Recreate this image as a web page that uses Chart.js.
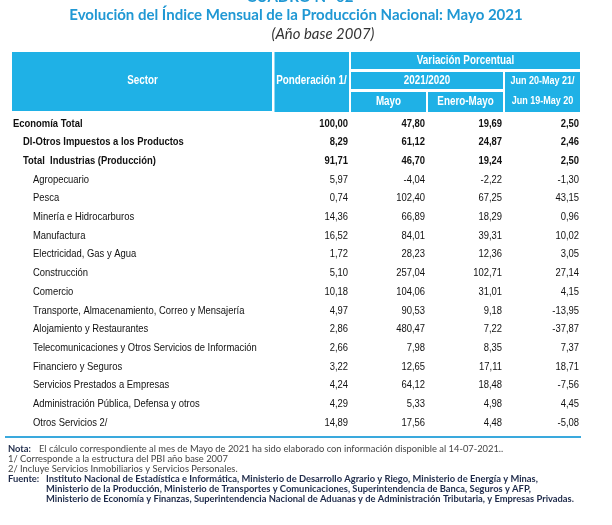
<!DOCTYPE html>
<html lang="es">
<head>
  <meta charset="UTF-8">
  <title>Producción Nacional Mayo 2021</title>
  <script src="https://cdn.jsdelivr.net/npm/chart.js@4/dist/chart.umd.min.js"></script>
  <style>
    body { margin: 0; background: #fff; }
    #wrap { width: 612px; height: 525px; }
  </style>
</head>
<body>
  <div id="wrap"><canvas id="tabla" width="612" height="525"></canvas></div>
  <script>
    // datos del cuadro
    var sectores = [
      'Economía Total',
      'DI-Otros Impuestos a los Productos',
      'Total  Industrias (Producción)',
      'Agropecuario',
      'Pesca',
      'Minería e Hidrocarburos',
      'Manufactura',
      'Electricidad, Gas y Agua',
      'Construcción',
      'Comercio',
      'Transporte, Almacenamiento, Correo y Mensajería',
      'Alojamiento y Restaurantes',
      'Telecomunicaciones y Otros Servicios de Información',
      'Financiero y Seguros',
      'Servicios Prestados a Empresas',
      'Administración Pública, Defensa y otros',
      'Otros Servicios 2/'
    ]
    var nivel = [0, 1, 1, 2, 2, 2, 2, 2, 2, 2, 2, 2, 2, 2, 2, 2, 2]
    var columnas = ['Ponderación 1/', 'Mayo', 'Enero-Mayo', 'Jun 20-May 21/']

    var ponderacion = [100.00, 8.29, 91.71, 5.97, 0.74, 14.36, 16.52, 1.72, 5.10, 10.18, 4.97, 2.86, 2.66, 3.22, 4.24, 4.29, 14.89]
    var varMayo = [47.80, 61.12, 46.70, -4.04, 102.40, 66.89, 84.01, 28.23, 257.04, 104.06, 90.53, 480.47, 7.98, 12.65, 64.12, 5.33, 17.56]
    var varEneroMayo = [19.69, 24.87, 19.24, -2.22, 67.25, 18.29, 39.31, 12.36, 102.71, 31.01, 9.18, 7.22, 8.35, 17.11, 18.48, 4.98, 4.48]
    var varAnual = [2.50, 2.46, 2.50, -1.30, 43.15, 0.96, 10.02, 3.05, 27.14, 4.15, -13.95, -37.87, 7.37, 18.71, -7.56, 4.45, -5.08]

    var titulo = 'Evolución del Índice Mensual de la Producción Nacional: Mayo 2021'
    var subtitulo = '(Año base 2007)'
    var notas = [
      ['Nota:', 'El cálculo correspondiente al mes de Mayo de 2021 ha sido elaborado con información disponible al 14-07-2021..'],
      ['', '1/ Corresponde a la estructura del PBI año base 2007'],
      ['', '2/ Incluye Servicios Inmobiliarios y Servicios Personales.']
    ]
    var fuente = [
      'Instituto Nacional de Estadística e Informática, Ministerio de Desarrollo Agrario y Riego, Ministerio de Energía y Minas,',
      'Ministerio de la Producción, Ministerio de Transportes y Comunicaciones, Superintendencia de Banca, Seguros y AFP,',
      'Ministerio de Economía y Finanzas, Superintendencia Nacional de Aduanas y de Administración Tributaria, y Empresas Privadas.'
    ]

    var AZUL = '#1fb1e6'
    var AZUL_TITULO = '#2098d4'
    var ARIAL = '"Liberation Sans", Arial, sans-serif'
    var CALIBRI = 'Lato, "Open Sans", sans-serif'
    var ESTRECHO = 0.82 // Arial Narrow ~ Arial comprimida

    function fmt(v) {
      return v.toFixed(2).replace('.', ',')
    }

    function serie(col, valores) {
      return {
        label: columnas[col],
        data: valores.map(function (v, i) { return { x: columnas[col], y: sectores[i], v: v } }),
        pointRadius: 0,
        pointHoverRadius: 0,
        showLine: false
      }
    }

    // texto angosto (imitando Arial Narrow)
    function narrow(ctx, text, x, y, bold, size) {
      ctx.save()
      ctx.font = (bold ? 'bold ' : '') + (size || 11.5) + 'px ' + ARIAL
      ctx.translate(x, y)
      ctx.scale(ESTRECHO, 1)
      ctx.fillText(text, 0, 0)
      ctx.restore()
    }

    // ajusta el tamaño de letra a un ancho dado
    function fitFont(ctx, text, style, family, width) {
      ctx.font = style + ' 10px ' + family
      var w = ctx.measureText(text).width
      return style + ' ' + (10 * width / w).toFixed(2) + 'px ' + family
    }

    var tablaPlugin = {
      id: 'tabla',
      beforeDraw: function (chart) {
        var ctx = chart.ctx
        var area = chart.chartArea
        var x = chart.scales.x
        var colW = (x.right - x.left) / columnas.length
        var top = 52
        var bottom = area.top - 2
        var edge = function (i) { return x.left + i * colW }

        ctx.save()
        ctx.fillStyle = '#fff'
        ctx.fillRect(0, 0, chart.width, chart.height)

        // encabezado
        ctx.fillStyle = AZUL
        ctx.fillRect(12, top, edge(0) - 13, bottom - 1 - top)
        ctx.fillRect(edge(0) + 1.5, top, colW - 2.5, bottom - top)
        ctx.fillRect(edge(1) + 1, top, edge(4) - edge(1) - 2, 17)
        ctx.fillRect(edge(1) + 1, top + 20, edge(3) - edge(1) - 2, 17)
        ctx.fillRect(edge(1) + 1, top + 40, colW - 2, bottom - top - 40)
        ctx.fillRect(edge(2) + 1, top + 40, colW - 2, bottom - top - 40)
        ctx.fillRect(edge(3) + 1, top + 20, colW - 2, bottom - top - 20)

        ctx.fillStyle = '#fff'
        ctx.textAlign = 'center'
        ctx.textBaseline = 'middle'
        narrow(ctx, 'Sector', (12 + edge(0)) / 2, 81, true, 12)
        narrow(ctx, columnas[0], edge(0) + colW / 2, 81, true, 12)
        narrow(ctx, 'Variación Porcentual', (edge(1) + edge(4)) / 2, 61, true, 12)
        narrow(ctx, '2021/2020', (edge(1) + edge(3)) / 2, 81, true, 12)
        narrow(ctx, columnas[1], edge(1) + colW / 2, 102, true, 12)
        narrow(ctx, columnas[2], edge(2) + colW / 2, 102, true, 12)
        narrow(ctx, columnas[3], edge(3) + colW / 2, 81, true, 11)
        narrow(ctx, 'Jun 19-May 20', edge(3) + colW / 2, 101, true, 11)
        ctx.restore()
      },
      afterDatasetsDraw: function (chart) {
        var ctx = chart.ctx
        var area = chart.chartArea
        var x = chart.scales.x
        var y = chart.scales.y
        var colW = (x.right - x.left) / columnas.length

        ctx.save()
        ctx.textBaseline = 'middle'
        ctx.fillStyle = '#111'

        // nombres de sector
        ctx.textAlign = 'left'
        sectores.forEach(function (s, i) {
          narrow(ctx, s, 13 + nivel[i] * 10, y.getPixelForValue(i), nivel[i] < 2)
        })

        // valores
        ctx.textAlign = 'right'
        chart.data.datasets.forEach(function (ds, d) {
          var meta = chart.getDatasetMeta(d)
          meta.data.forEach(function (pt, i) {
            narrow(ctx, fmt(ds.data[i].v), pt.x + colW / 2 - 2, pt.y, nivel[i] < 2)
          })
        })

        // línea de cierre
        ctx.strokeStyle = '#3aa9dd'
        ctx.lineWidth = 2
        ctx.beginPath()
        ctx.moveTo(5, area.bottom + 5)
        ctx.lineTo(x.right, area.bottom + 5)
        ctx.stroke()
        ctx.restore()
      },
      afterDraw: function (chart) {
        var ctx = chart.ctx
        var area = chart.chartArea
        ctx.save()
        ctx.textBaseline = 'middle'

        // títulos
        ctx.textAlign = 'center'
        ctx.fillStyle = AZUL_TITULO
        ctx.font = fitFont(ctx, titulo, 'bold', CALIBRI, 454)
        ctx.fillText(titulo, 296, 15)
        ctx.textBaseline = 'alphabetic'
        ctx.fillText('CUADRO N° 02', 300, 2)
        ctx.textBaseline = 'middle'
        ctx.fillStyle = '#333'
        ctx.font = fitFont(ctx, subtitulo, 'italic', CALIBRI, 103)
        ctx.fillText(subtitulo, 323, 34)

        // notas
        ctx.textAlign = 'left'
        var y0 = area.bottom + 17
        var paso = 10
        var fNota = fitFont(ctx, fuente[2], 'bold', CALIBRI, 529)
        var tam = fNota.split(' ')[1]
        notas.forEach(function (n, i) {
          var y = y0 + i * paso
          if (n[0]) {
            ctx.fillStyle = '#1f2b4a'
            ctx.font = 'bold ' + tam + ' ' + CALIBRI
            ctx.fillText(n[0], 8, y)
            ctx.fillStyle = '#444'
            ctx.font = tam + ' ' + CALIBRI
            ctx.fillText(n[1], 39, y)
          } else {
            ctx.fillStyle = '#444'
            ctx.font = tam + ' ' + CALIBRI
            ctx.fillText(n[1], 8, y)
          }
        })
        fuente.forEach(function (t, i) {
          var y = y0 + (3 + i) * paso
          ctx.fillStyle = '#1f2b4a'
          ctx.font = fNota
          if (i === 0) ctx.fillText('Fuente:', 8, y)
          ctx.fillText(t, 46, y)
        })
        ctx.restore()
      }
    }

    var chart = new Chart(document.getElementById('tabla').getContext('2d'), {
      type: 'scatter',
      data: {
        datasets: [
          serie(0, ponderacion),
          serie(1, varMayo),
          serie(2, varEneroMayo),
          serie(3, varAnual)
        ]
      },
      options: {
        responsive: false,
        animation: false,
        events: [],
        layout: { padding: { left: 273, right: 31, top: 114, bottom: 93 } },
        plugins: {
          legend: { display: false },
          tooltip: { enabled: false }
        },
        scales: {
          x: {
            type: 'category',
            labels: columnas,
            offset: true,
            display: false
          },
          y: {
            type: 'category',
            labels: sectores,
            offset: true,
            display: false
          }
        }
      },
      plugins: [tablaPlugin]
    })
  </script>
</body>
</html>
